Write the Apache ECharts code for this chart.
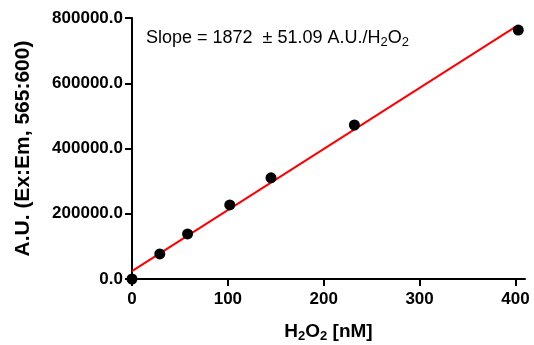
<!DOCTYPE html>
<html>
<head>
<meta charset="utf-8">
<script src="https://cdn.jsdelivr.net/npm/echarts@6/dist/echarts.min.js"></script>
<style>
  html, body { margin: 0; padding: 0; background: #fff; }
  #chart { width: 534px; height: 345px; }
</style>
</head>
<body>
<div id="chart"></div>
<script>
// measured points
const h2o2 = [0, 29, 58, 102, 145, 232, 403]
const signal = [0, 77000, 138000, 227000, 310000, 472000, 763000]

// linear fit end points
const fitX = [0, 400]
const fitY = [24000, 772800]

const xTicks = [0, 100, 200, 300, 400]
const yTicks = [0, 200000, 400000, 600000, 800000]

const chart = echarts.init(document.getElementById('chart'))

const font = 'Liberation Sans, Arial, sans-serif'
const axisFont = { fontFamily: font, fontWeight: 'bold', color: '#000' }

chart.setOption({
  animation: false,
  grid: { left: 132, right: 9, top: 18, bottom: 66, outerBoundsMode: 'none' },
  xAxis: {
    type: 'value',
    min: 0,
    max: 410,
    interval: 100,
    name: '{b|H}{s|2}{b|O}{s|2}{b| [nM]}',
    nameLocation: 'middle',
    nameGap: 42,
    nameTextStyle: {
      rich: {
        b: { ...axisFont, fontSize: 19 },
        s: { ...axisFont, fontSize: 13, padding: [9, 0, 0, 0] }
      }
    },
    axisLine: { show: true, onZero: false, lineStyle: { color: '#000', width: 2 } },
    axisTick: { show: true, length: 7, lineStyle: { color: '#000', width: 2 } },
    axisLabel: { ...axisFont, fontSize: 17, margin: 12, showMaxLabel: false },
    splitLine: { show: false }
  },
  yAxis: {
    type: 'value',
    min: 0,
    max: 800000,
    interval: 200000,
    name: 'A.U. (Ex:Em, 565:600)',
    nameLocation: 'middle',
    nameGap: 98,
    nameTextStyle: { ...axisFont, fontSize: 21 },
    axisLine: { show: true, onZero: false, lineStyle: { color: '#000', width: 2 } },
    axisTick: { show: true, length: 7, lineStyle: { color: '#000', width: 2 } },
    axisLabel: {
      ...axisFont,
      fontSize: 17,
      margin: 9,
      formatter: v => v.toFixed(1)
    },
    splitLine: { show: false }
  },
  graphic: [
    {
      type: 'text',
      left: 146,
      top: 29,
      style: {
        text: 'Slope = 1872  ± 51.09 A.U./H{s|2}O{s|2}',
        fontFamily: font,
        fontSize: 18,
        fill: '#000',
        rich: {
          s: { fontFamily: font, fontSize: 13, fill: '#000', padding: [9, 0, 0, 0] }
        }
      }
    }
  ],
  series: [
    {
      type: 'line',
      name: 'fit',
      data: fitX.map((x, i) => [x, fitY[i]]),
      symbol: 'none',
      lineStyle: { color: '#ff0000', width: 2 },
      clip: false,
      z: 2
    },
    {
      type: 'scatter',
      name: 'data',
      data: h2o2.map((x, i) => [x, signal[i]]),
      symbol: 'circle',
      symbolSize: 11,
      itemStyle: { color: '#000', opacity: 1 },
      clip: false,
      z: 3
    }
  ]
})
</script>
</body>
</html>
